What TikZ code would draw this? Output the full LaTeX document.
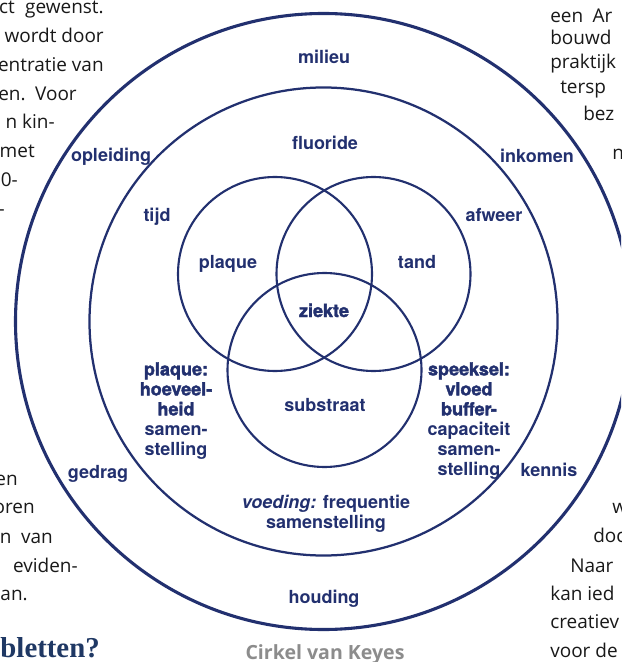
\documentclass[tikz,border=0pt]{standalone}
\usepackage{fontspec}
\usepackage{xcolor}
\setmainfont{Open Sans}
\newfontfamily\labelfont{TeX Gyre Heros}
\newfontfamily\heavyfont{TeX Gyre Heros}[FakeBold=2]
\newfontfamily\headfont{Liberation Serif}
\definecolor{KeyesBlue}{HTML}{22306F}
\definecolor{HeadBlue}{HTML}{1F3864}
\definecolor{CaptionGrey}{HTML}{8C8C8C}
\newcommand{\hv}[1]{{\heavyfont\bfseries #1}}

\begin{document}
\begin{tikzpicture}[x=0.25mm, y=-0.25mm,
    ring/.style={circle, draw=KeyesBlue, inner sep=0pt},
    lbl/.style={text=KeyesBlue, inner sep=0pt, align=center, font=\labelfont\bfseries\fontsize{12.8}{14.2}\selectfont},
    heavy/.style={lbl, font=\heavyfont\bfseries\fontsize{12.8}{14.2}\selectfont},
    body/.style={text=black!90, inner sep=0pt, font=\fontsize{13.5}{20}\selectfont}]

    \useasboundingbox (0,0) rectangle (621,662);
    \fill[white] (0,0) rectangle (621,662);
    \clip (0,0) rectangle (621,662);

    % circles
    \node[ring, line width=2.2pt, minimum size=154mm] (outer) at (323.5,321.5) {};
    \node[ring, line width=1.6pt, minimum size=117mm] (middle) at (outer.center) {};
    \node[ring, line width=1.5pt, minimum size=48.5mm] (plaque) at (275,274) {};
    \node[ring, line width=1.5pt, minimum size=48.5mm] (tand) at (373.5,274) {};
    \node[ring, line width=1.5pt, minimum size=48.5mm] (subst) at (324.5,370) {};

    % outer ring
    \node[lbl, anchor=base] (milieu) at (324,64) {milieu};
    \node[lbl, anchor=base] (opl) at (111,162) {opleiding};
    \node[lbl, anchor=base] (ink) at (537,163) {inkomen};
    \node[lbl, anchor=base] (gedrag) at (98,478) {gedrag};
    \node[lbl, anchor=base] (kennis) at (549,476) {kennis};
    \node[lbl, anchor=base] (houding) at (324,603) {houding};

    % middle ring
    \node[lbl, anchor=base] (fluor) at (325,150) {fluoride};
    \node[lbl, anchor=base] (tijd) at (157,222) {tijd};
    \node[lbl, anchor=base] (afweer) at (494,222) {afweer};
    \node[lbl, anchor=north] (plaqueq) at (176,362) {\hv{plaque:}\\\hv{hoeveel-}\\\hv{heid}\\samen-\\stelling};
    \node[lbl, anchor=north] (speeksel) at (469,362) {\hv{speeksel:}\\\hv{vloed}\\\hv{buffer-}\\capaciteit\\samen-\\stelling};
    \node[lbl, anchor=north] (voeding) at (326,495) {\textit{voeding:} frequentie\\samenstelling};

    % inner circles
    \node[lbl, anchor=base] (plaquet) at (228,269) {plaque};
    \node[lbl, anchor=base] (tandt) at (417,269) {tand};
    \node[heavy, anchor=base] (ziekte) at (324,317) {ziekte};
    \node[lbl, anchor=base] (substt) at (325,411) {substraat};

    \node[font=\bfseries\fontsize{13.9}{16}\selectfont, text=CaptionGrey, inner sep=0pt, anchor=base] (caption) at (325,659) {Cirkel van Keyes};

    % page text around the figure
    \node[body, anchor=base east] (l1) at (104,14) {ct\hspace{0.55em}gewenst.};
    \node[body, anchor=base east] (l2) at (104,43) {wordt door};
    \node[body, anchor=base east] (l3) at (104,72) {entratie van};
    \node[body, anchor=base east] (l4) at (77,101) {en.\hspace{0.5em}Voor};
    \node[body, anchor=base east] (l5) at (55,129) {n kin-};
    \node[body, anchor=base east] (l6) at (35,158) {met};
    \node[body, anchor=base east] (l7) at (18,187) {0-};
    \node[body, anchor=base east] (l8) at (5,216) {-};

    \node[body, anchor=base east] (b1) at (18,485) {en};
    \node[body, anchor=base east] (b2) at (35,513) {oren};
    \node[body, anchor=base east] (b3) at (53,543) {n\hspace{0.5em}van};
    \node[body, anchor=base east] (b4) at (78,572) {eviden-};
    \node[body, anchor=base east] (b5) at (28,600) {an.};
    \node[font=\headfont\bfseries\fontsize{20.5}{22}\selectfont, text=HeadBlue, inner sep=0pt, anchor=base east] (head) at (100,657) {bletten?};

    \node[body, anchor=base west] (r1) at (550,23) {een\hspace{0.5em}Ar};
    \node[body, anchor=base west] (r2) at (550,45) {bouwd};
    \node[body, anchor=base west] (r3) at (550,69) {praktijk};
    \node[body, anchor=base west] (r4) at (560,94) {tersp};
    \node[body, anchor=base west] (r5) at (583,121) {bez};
    \node[body, anchor=base west] (r6) at (612,160) {n};

    \node[body, anchor=base west] (s1) at (612,513) {w};
    \node[body, anchor=base west] (s2) at (593,542) {doc};
    \node[body, anchor=base west] (s3) at (570,572) {Naar};
    \node[body, anchor=base west] (s4) at (550,600) {kan ied};
    \node[body, anchor=base west] (s5) at (550,628) {creatiev};
    \node[body, anchor=base west] (s6) at (550,657) {voor de};

\end{tikzpicture}
\end{document}
